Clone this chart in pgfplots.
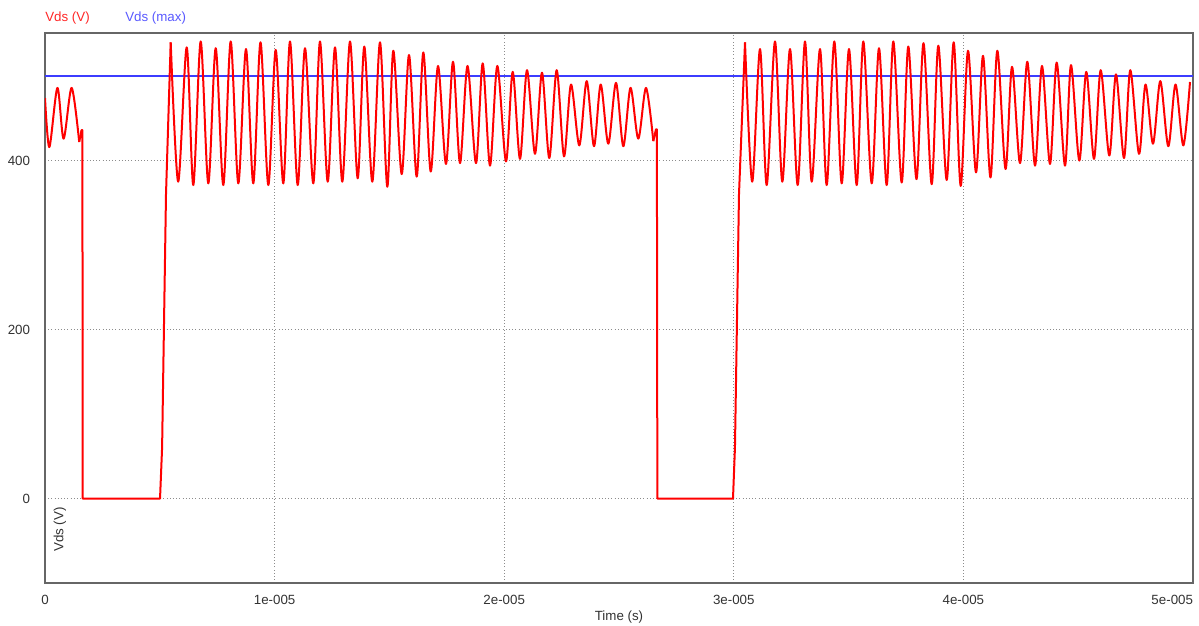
\documentclass[border=0pt]{standalone}
\usepackage{fontspec}
\setmainfont{Liberation Sans}
\usepackage{pgfplots}
\pgfplotsset{compat=1.18}

\definecolor{vdsred}{RGB}{255,0,0}
\definecolor{vdsblue}{RGB}{60,60,255}
\definecolor{gridgray}{RGB}{140,140,140}
\definecolor{txtgray}{RGB}{50,50,50}

% time in microseconds, Vds in volts
% ringing parts (drawn smooth)
\pgfplotstableread{
t V
0.00 474
0.19 416
0.54 486
0.81 426
1.16 486
1.49 422
}\ringa
\pgfplotstableread{
t V
5.475 540
5.80 375
6.172 534
6.459 371
6.781 541
7.112 373
7.435 533
7.766 371
8.088 541
8.419 373
8.754 532
9.072 373
9.386 540
9.726 371
10.048 531
10.379 373
10.671 541
11.006 371
11.324 533
11.685 373
11.977 541
12.313 375
12.631 534
12.949 375
13.284 541
13.619 379
13.907 535
14.255 375
14.591 540
14.909 369
15.170 530
15.536 384
15.854 525
16.189 381
16.477 528
16.799 387
17.117 512
17.465 396
17.770 517
18.075 397
18.402 512
18.772 397
19.064 515
19.382 394
19.700 512
20.078 399
20.370 505
20.688 402
20.993 507
21.341 408
21.646 504
21.964 403
22.286 507
22.605 405
22.909 490
23.271 418
23.593 494
23.911 417
24.203 490
24.534 420
24.869 492
25.187 417
25.501 486
25.840 426
26.176 486
26.494 423
}\ringb
\pgfplotstableread{
t V
30.488 540
30.80 375
31.141 532
31.433 371
31.794 541
32.112 375
32.448 532
32.783 371
33.101 541
33.393 375
33.754 532
34.046 371
34.377 541
34.699 373
35.017 532
35.353 371
35.640 541
36.006 373
36.324 533
36.659 371
36.947 541
37.312 374
37.600 535
37.957 378
38.262 539
38.619 372
38.907 536
39.272 377
39.577 540
39.882 370
40.200 530
40.549 386
40.854 524
41.180 380
41.477 530
41.834 390
42.117 511
42.466 397
42.783 517
43.119 394
43.423 512
43.772 396
44.063 516
44.425 394
44.686 513
45.048 400
45.352 505
45.688 402
45.980 507
46.354 406
46.646 502
46.995 403
47.269 507
47.648 408
47.931 490
48.258 420
48.576 494
48.924 417
49.238 490
49.578 418
49.869 493
}\ringc
% switching edges and off-state (drawn straight)
\pgfplotstableread{
t V
1.49 422
1.59 436
1.63 436
1.64 0
5.01 0
5.10 60
5.27 360
5.475 540
}\edgea
\pgfplotstableread{
t V
26.494 423
26.611 437
26.650 437
26.670 0
29.965 0
30.050 60
30.226 360
30.488 540
}\edgeb

\begin{document}
\fontsize{10}{12}\selectfont
\begin{tikzpicture}
\begin{axis}[
    scale only axis,
    width=861pt,
    height=412.5pt,
    xmin=0, xmax=50,
    ymin=-100, ymax=551,
    xtick={0,10,20,30,40,50},
    xticklabels={0,1e-005,2e-005,3e-005,4e-005,\makebox[0pt][r]{5e-005}},
    ytick={0,200,400},
    major tick length=0pt,
    grid=major,
    major grid style={gridgray, dotted, line width=0.8pt},
    axis line style={black!60, line width=1.2pt},
    tick label style={font=\fontsize{10}{12}\selectfont, text=txtgray},
    /pgf/number format/assume math mode=true,
    xticklabel style={inner sep=0pt, anchor=north, yshift=-9pt},
    yticklabel style={inner sep=0pt, anchor=east, xshift=-11pt},
    every axis plot/.append style={line join=round},
]
\addplot[vdsblue, line width=1pt] coordinates {(0,500) (50,500)};
\addplot[vdsred, line width=1.5pt, smooth, tension=0.5] table[x=t, y=V] {\ringa};
\addplot[vdsred, line width=1.5pt] table[x=t, y=V] {\edgea};
\addplot[vdsred, line width=1.5pt, smooth, tension=0.5] table[x=t, y=V] {\ringb};
\addplot[vdsred, line width=1.5pt] table[x=t, y=V] {\edgeb};
\addplot[vdsred, line width=1.5pt, smooth, tension=0.5] table[x=t, y=V] {\ringc};
\end{axis}
\node[anchor=base west, inner sep=0pt, text=vdsred!85!white]
    at ([yshift=8.5pt]current axis.north west) {Vds (V)};
\node[anchor=base west, inner sep=0pt, text=vdsblue!85!white]
    at ([xshift=60pt, yshift=8.5pt]current axis.north west) {Vds (max)};
\node[rotate=90, anchor=west, inner sep=0pt, text=txtgray]
    at ([xshift=11.25pt, yshift=23.25pt]current axis.south west) {Vds (V)};
\node[anchor=north, inner sep=0pt, text=txtgray]
    at ([yshift=-20.5pt]current axis.south) {Time (s)};
\pgfresetboundingbox
\path[use as bounding box]
    ([xshift=-33.75pt, yshift=-31.5pt]current axis.south west)
    rectangle ([xshift=4.5pt, yshift=24.75pt]current axis.north east);
\end{tikzpicture}
\end{document}
